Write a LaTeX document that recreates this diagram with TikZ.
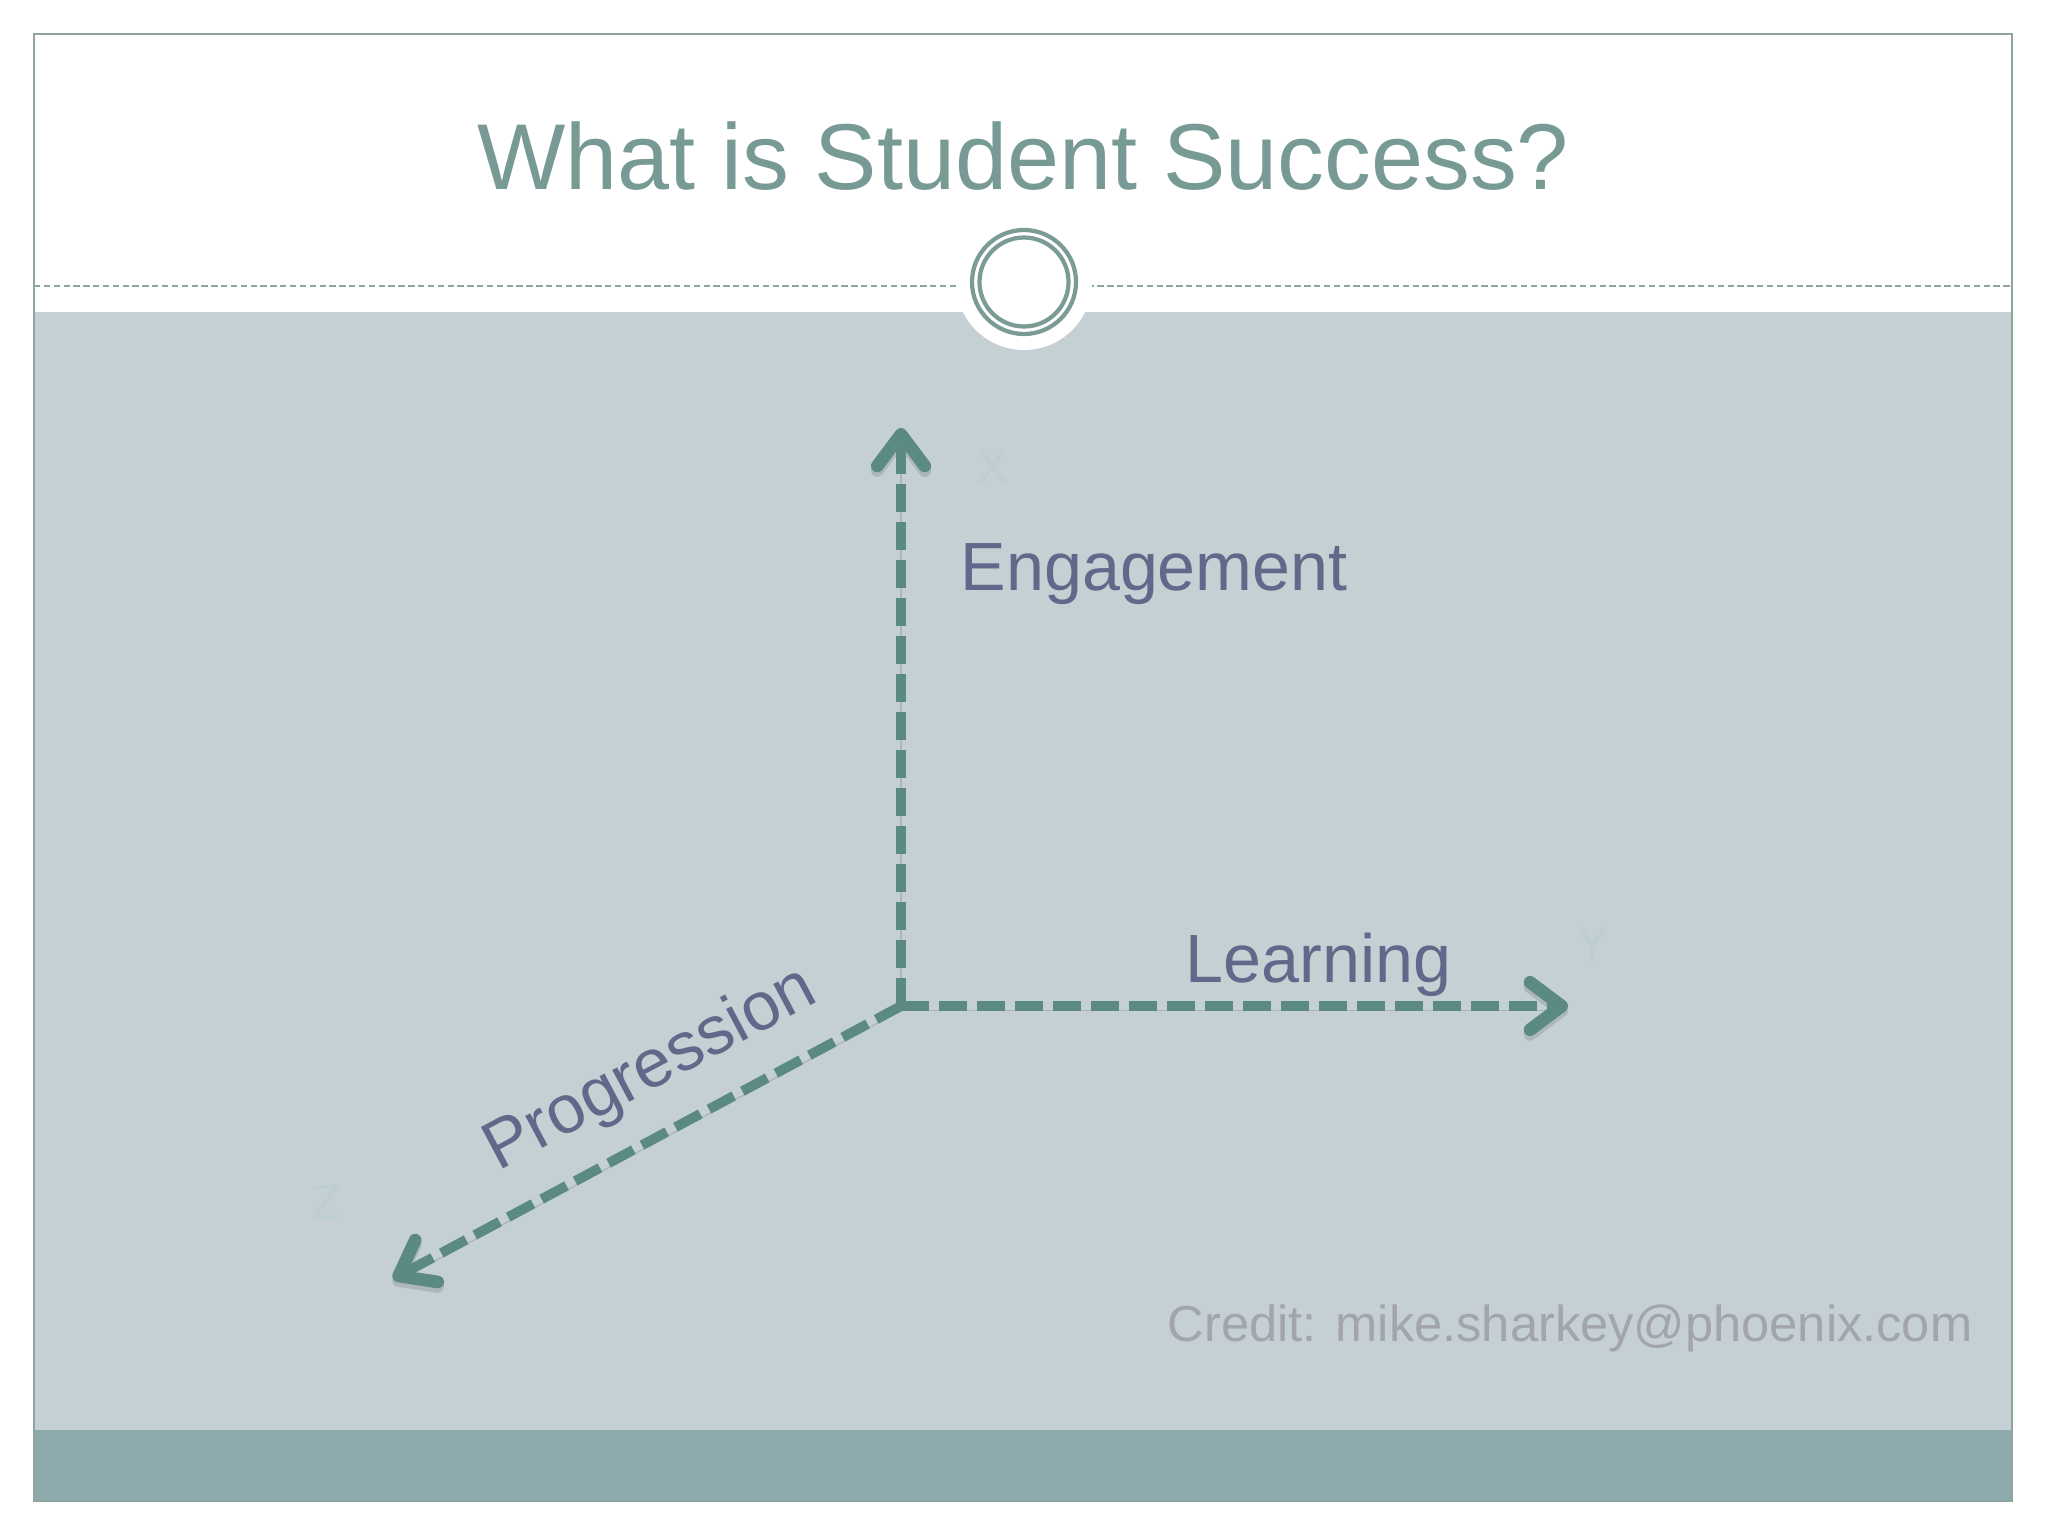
\documentclass[tikz,border=0pt]{standalone}
\usepackage{fontspec}
\setmainfont{Liberation Sans}
\usetikzlibrary{arrows.meta}

\definecolor{titleteal}{HTML}{779A94}
\definecolor{axisteal}{HTML}{5B8A83}
\definecolor{labelslate}{HTML}{5F6A8A}
\definecolor{creditgray}{HTML}{A2A5AB}
\definecolor{panelgray}{HTML}{C5D0D5}
\definecolor{bandteal}{HTML}{8DAAAC}
\definecolor{framegray}{HTML}{8FA39F}
\definecolor{ringteal}{HTML}{7A9C95}
\definecolor{faintletter}{HTML}{BCCFCE}

\begin{document}
\begin{tikzpicture}[x=0.01cm, y=-0.01cm,
    axis/.style={line width=2.8pt, draw=axisteal, dash pattern=on 8pt off 2.8pt,
        -{Straight Barb[length=9pt,width=13.5pt,line width=3.6pt,round]},
        preaction={draw=black, draw opacity=0.12, transform canvas={yshift=-1.3pt}}},
    axislabel/.style={text=labelslate, font=\fontsize{19.4pt}{23pt}\selectfont, inner sep=0pt},
    faint/.style={text=faintletter, font=\fontsize{14pt}{17pt}\selectfont, inner sep=0pt}]
    \useasboundingbox (0,0) rectangle (2048,1536);

    % slide frame
    \fill[white] (34,34) rectangle (2012,312);
    \fill[panelgray] (34,312) rectangle (2012,1430);
    \fill[bandteal] (34,1430) rectangle (2012,1501);
    \draw[framegray, line width=0.6pt] (34,34) rectangle (2012,1501);
    \draw[framegray, line width=0.45pt, dash pattern=on 1.8pt off 1pt] (34,286) -- (2012,286);

    % title and badge
    \node[text=titleteal, font=\fontsize{26.6pt}{32pt}\selectfont, anchor=base, inner sep=0pt] (title) at (1023,189) {What is Student Success?};
    \fill[white] (1024,282) circle (68);
    \draw[ringteal, line width=1.2pt] (1024,282) circle (52);
    \draw[ringteal, line width=1.2pt] (1024,282) circle (44.5);

    % axes
    \coordinate (origin) at (901,1006);
    \coordinate (xend) at (901,428);
    \coordinate (yend) at (1568,1006);
    \coordinate (zend) at (393,1279);
    \draw[axis] (origin) -- (xend);
    \draw[axis] (origin) -- (yend);
    \draw[axis] (origin) -- (zend);

    \node[faint] (xlabel) at (993,468) {X};
    \node[faint] (ylabel) at (1593,945) {Y};
    \node[faint] (zlabel) at (327,1203) {Z};

    \node[axislabel, anchor=base west] (engagement) at (960,590) {Engagement};
    \node[axislabel, anchor=base west] (learning) at (1185,982) {Learning};
    \node[axislabel, anchor=base west, rotate=28] (progression) at (498,1172) {Progression};

    \node[text=creditgray, font=\fontsize{14.4pt}{17pt}\selectfont, anchor=base west, inner sep=0pt] (credit) at (1167,1341) {Credit: mike.sharkey@phoenix.com};
\end{tikzpicture}
\end{document}
